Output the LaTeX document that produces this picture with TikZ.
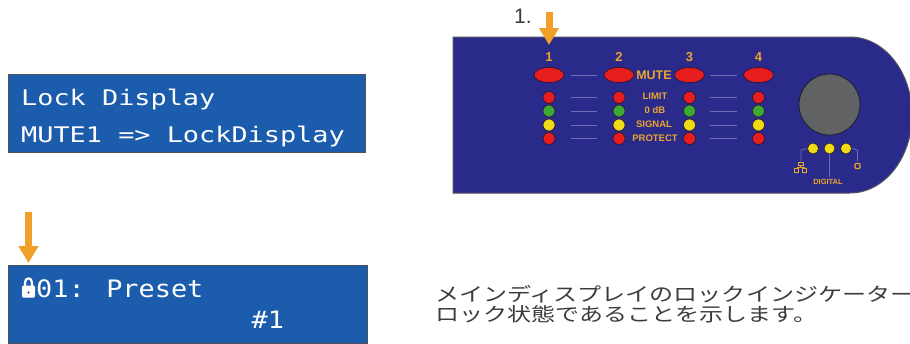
\documentclass[tikz,border=0pt]{standalone}
\usepackage{fontspec}
\setsansfont{Liberation Sans}
\newfontfamily\lcdA[FakeStretch=1.25]{DejaVu Sans Mono}
\newfontfamily\lcdB[FakeStretch=1.12]{DejaVu Sans Mono}
\newfontfamily\jpfont[FakeStretch=1.265]{Noto Sans CJK JP}
\newfontfamily\panelfont{Liberation Sans}
\usetikzlibrary{shapes.geometric,arrows.meta}

\definecolor{lcdblue}{RGB}{28,92,172}
\definecolor{lcdedge}{RGB}{80,80,85}
\definecolor{panelblue}{RGB}{42,42,138}
\definecolor{paneledge}{RGB}{85,85,95}
\definecolor{labelorange}{RGB}{235,165,45}
\definecolor{arroworange}{RGB}{240,160,40}
\definecolor{ledred}{RGB}{230,30,30}
\definecolor{ledgreen}{RGB}{60,170,50}
\definecolor{ledyellow}{RGB}{240,220,20}
\definecolor{knobgray}{RGB}{96,98,100}
\definecolor{guideline}{RGB}{110,110,180}
\definecolor{captiongray}{RGB}{60,60,60}

\tikzset{
  lcdbox/.style={rectangle, draw=lcdedge, line width=1.2, fill=lcdblue,
    inner sep=0, anchor=north west},
  lcdlineA/.style={text=white, inner sep=0, anchor=base west,
    font=\lcdA\fontsize{21.5}{26}\selectfont},
  lcdlineB/.style={text=white, inner sep=0, anchor=base west,
    font=\lcdB\fontsize{24}{28}\selectfont},
  pointer/.style={draw=arroworange, line width=7,
    -{Triangle[width=19pt,length=17pt]}},
  led/.style={circle, fill=#1, draw={rgb,255:red,40;green,20;blue,50},
    line width=0.6, minimum size=12, inner sep=0},
  smallled/.style={circle, fill=ledyellow, draw={rgb,255:red,40;green,20;blue,50},
    line width=0.6, minimum size=11, inner sep=0},
  mutebtn/.style={ellipse, fill=ledred, draw={rgb,255:red,40;green,20;blue,50},
    line width=0.6, minimum width=30, minimum height=15, inner sep=0},
  chnum/.style={text=labelorange, inner sep=0,
    font=\panelfont\bfseries\fontsize{13}{14}\selectfont},
  rowlabel/.style={text=labelorange, inner sep=0,
    font=\panelfont\bfseries\fontsize{9.5}{10}\selectfont},
  guide/.style={draw=guideline, line width=0.8},
  jptext/.style={text=captiongray, inner sep=0, anchor=base west,
    font=\jpfont\fontsize{19}{20}\selectfont},
}

\begin{document}
\begin{tikzpicture}[x=1pt,y=-1pt]
\useasboundingbox (0,0) rectangle (910,343);
\fill[white] (0,0) rectangle (910,343);

% ---- upper LCD: lock display setting ----
\node[lcdbox, minimum width=357, minimum height=78] (lcd1) at (8,74) {};
\node[lcdlineA] (lcd1a) at (21,105) {Lock Display};
\node[lcdlineA] (lcd1b) at (21,142) {MUTE1 => LockDisplay};

% ---- lower LCD: preset screen with lock symbol ----
\node[lcdbox, minimum width=359, minimum height=78] (lcd2) at (8,265) {};
% padlock symbol
\fill[white, rounded corners=1.2] (22,285.5) rectangle (35,297.5);
\draw[white, line width=2.2] (25,287) -- (25,282.5)
  .. controls (25,277) and (32,277) .. (32,282.5) -- (32,287);
\fill[lcdblue!60!black] (28.5,292.5) circle[radius=1.1];
\node[lcdlineB] (lcd2a) at (36,297) {01: Preset};
\node[lcdlineB] (lcd2b) at (251.5,328) {\#1};

% pointer onto the lock symbol
\coordinate (p2s) at (28.5,212);
\coordinate (p2e) at (28.5,263);
\draw[pointer] (p2s) -- (p2e);

% ---- front panel ----
\path[draw=paneledge, line width=1, fill=panelblue]
  (453,37) -- (850,37) arc[start angle=-90, end angle=90, x radius=62, y radius=78]
  -- (453,193) -- cycle;

% channel numbers and MUTE buttons
\foreach \n/\x in {1/549,2/619,3/689.5,4/758.5}{
  \node[chnum] (ch\n) at (\x,57) {\n};
  \node[mutebtn] (mute\n) at (\x,75) {};
}
\node[text=labelorange, inner sep=0,
  font=\panelfont\bfseries\fontsize{12.5}{13}\selectfont] (mutelbl) at (654,75.5) {MUTE};

% faint guide lines between the columns
\foreach \y in {75,97.5,111,125,138}{
  \draw[guide] (571,\y) -- (597,\y);
  \draw[guide] (710,\y) -- (737,\y);
}

% LED meters
\foreach \n/\x in {1/549,2/619,3/689.5,4/758.5}{
  \node[led=ledred]    (lim\n) at (\x,97.5) {};
  \node[led=ledgreen]  (odb\n) at (\x,111) {};
  \node[led=ledyellow] (sig\n) at (\x,125) {};
  \node[led=ledred]    (pro\n) at (\x,138.5) {};
}
\node[rowlabel] (lbllimit) at (655,96.5) {LIMIT};
\node[rowlabel] (lbl0db)   at (655,110.5) {0 dB};
\node[rowlabel] (lblsig)   at (654,124.5) {SIGNAL};
\node[rowlabel] (lblprot)  at (655,138.5) {PROTECT};

% encoder knob
\node[circle, fill=knobgray, draw={rgb,255:red,30;green,30;blue,40}, line width=0.8,
  minimum size=61, inner sep=0] (knob) at (829.5,104.5) {};

% digital status LEDs
\node[smallled] (dled1) at (813,148.5) {};
\node[smallled] (dled2) at (829.5,148.5) {};
\node[smallled] (dled3) at (846,148.5) {};
\coordinate (netline) at (801,161);
\coordinate (digline) at (829.5,177);
\coordinate (pwrline) at (857.5,161);
\draw[guide, line width=0.7] (dled1.west) -- (801,150) -- (netline);
\draw[guide, line width=0.7] (dled2.south) -- (digline);
\draw[guide, line width=0.7] (dled3.east) -- (857.5,150) -- (pwrline);

% network symbol
\begin{scope}[draw=labelorange, line width=1]
  \draw (798,162) rectangle (803,165.5);
  \draw (800.5,165.5) -- (800.5,167.5);
  \draw (796.5,167.5) -- (804.5,167.5);
  \draw (796.5,167.5) -- (796.5,168.5);
  \draw (804.5,167.5) -- (804.5,168.5);
  \draw (794.5,168.5) rectangle (798.5,172);
  \draw (802.5,168.5) rectangle (806.5,172);
\end{scope}
% power symbol
\draw[labelorange, line width=1.3, rounded corners=1] (855,163.5) rectangle (860,168.5);

\node[text=labelorange, inner sep=0,
  font=\panelfont\bfseries\fontsize{7.5}{8}\selectfont] (digital) at (828,181.5) {DIGITAL};

% pointer onto MUTE 1
\node[text=captiongray, inner sep=0, anchor=base west,
  font=\sffamily\fontsize{21}{24}\selectfont] (step1) at (514,23) {1.};
\coordinate (p1s) at (549,12);
\coordinate (p1e) at (549,45);
\draw[pointer] (p1s) -- (p1e);

% ---- caption ----
\node[jptext] (cap1) at (435,301) {メインディスプレイのロックインジケーター};
\node[jptext] (cap2) at (435,321) {ロック状態であることを示します。};
\end{tikzpicture}
\end{document}
